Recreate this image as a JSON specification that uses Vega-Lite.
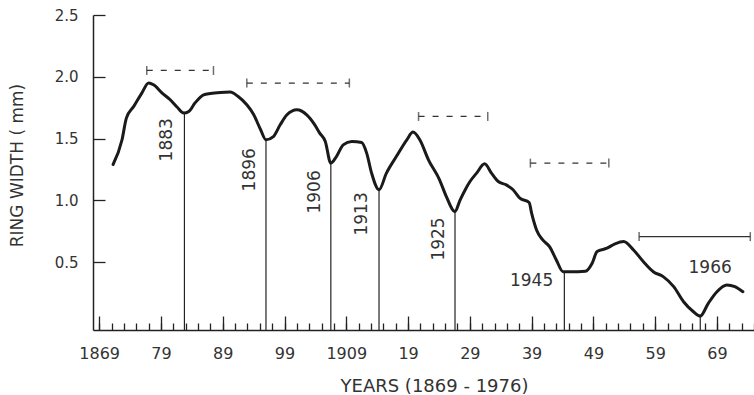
{
  "$schema": "https://vega.github.io/schema/vega-lite/v6.json",
  "width": 661,
  "height": 315,
  "autosize": "none",
  "padding": {"left": 93, "top": 15, "right": 0, "bottom": 65},
  "background": "white",
  "config": {"view": {"stroke": null}, "axis": {"grid": false}},
  "datasets": {
    "ring": [
      {"year": 1871.25, "width": 1.29}, {"year": 1872.7, "width": 1.49}, {"year": 1873.4, "width": 1.665},
      {"year": 1874.6, "width": 1.76}, {"year": 1875.9, "width": 1.868}, {"year": 1877.0, "width": 1.95},
      {"year": 1877.8, "width": 1.935}, {"year": 1879.2, "width": 1.868}, {"year": 1880.5, "width": 1.814},
      {"year": 1881.6, "width": 1.755}, {"year": 1882.7, "width": 1.706}, {"year": 1883.5, "width": 1.719},
      {"year": 1884.5, "width": 1.787}, {"year": 1885.9, "width": 1.854}, {"year": 1887.0, "width": 1.865},
      {"year": 1888.6, "width": 1.873}, {"year": 1890.2, "width": 1.876}, {"year": 1891.5, "width": 1.84},
      {"year": 1892.9, "width": 1.773}, {"year": 1894.0, "width": 1.695}, {"year": 1895.1, "width": 1.575},
      {"year": 1896.0, "width": 1.49}, {"year": 1897.2, "width": 1.516}, {"year": 1898.3, "width": 1.611},
      {"year": 1899.4, "width": 1.692}, {"year": 1901.0, "width": 1.733}, {"year": 1902.6, "width": 1.692},
      {"year": 1903.9, "width": 1.611}, {"year": 1904.7, "width": 1.544}, {"year": 1905.6, "width": 1.476},
      {"year": 1906.5, "width": 1.301}, {"year": 1907.4, "width": 1.354}, {"year": 1908.5, "width": 1.449},
      {"year": 1909.9, "width": 1.476}, {"year": 1911.5, "width": 1.468}, {"year": 1912.3, "width": 1.382},
      {"year": 1913.1, "width": 1.22}, {"year": 1914.3, "width": 1.085}, {"year": 1915.5, "width": 1.22},
      {"year": 1917.1, "width": 1.354}, {"year": 1918.8, "width": 1.49}, {"year": 1919.8, "width": 1.552},
      {"year": 1920.9, "width": 1.49}, {"year": 1922.3, "width": 1.328}, {"year": 1924.1, "width": 1.166},
      {"year": 1925.2, "width": 1.03}, {"year": 1926.6, "width": 0.909}, {"year": 1927.4, "width": 1.0},
      {"year": 1928.3, "width": 1.09}, {"year": 1929.0, "width": 1.15}, {"year": 1930.1, "width": 1.22},
      {"year": 1931.4, "width": 1.295}, {"year": 1932.5, "width": 1.22}, {"year": 1933.6, "width": 1.152},
      {"year": 1934.9, "width": 1.125}, {"year": 1936.0, "width": 1.085}, {"year": 1937.1, "width": 1.017},
      {"year": 1938.6, "width": 0.982}, {"year": 1939.0, "width": 0.896}, {"year": 1939.8, "width": 0.76},
      {"year": 1940.8, "width": 0.679}, {"year": 1941.9, "width": 0.625}, {"year": 1943.0, "width": 0.517},
      {"year": 1944.1, "width": 0.422}, {"year": 1945.1, "width": 0.422}, {"year": 1946.5, "width": 0.422},
      {"year": 1947.7, "width": 0.425}, {"year": 1948.8, "width": 0.49}, {"year": 1949.6, "width": 0.585},
      {"year": 1951.2, "width": 0.612}, {"year": 1952.5, "width": 0.647}, {"year": 1953.9, "width": 0.666},
      {"year": 1955.5, "width": 0.598}, {"year": 1957.1, "width": 0.503}, {"year": 1958.7, "width": 0.422},
      {"year": 1960.3, "width": 0.382}, {"year": 1962.0, "width": 0.301}, {"year": 1963.6, "width": 0.179},
      {"year": 1965.2, "width": 0.098}, {"year": 1966.3, "width": 0.063}, {"year": 1967.6, "width": 0.166},
      {"year": 1969.0, "width": 0.26}, {"year": 1970.6, "width": 0.315}, {"year": 1971.9, "width": 0.301},
      {"year": 1973.2, "width": 0.26}
    ],
    "minima": [
      {"year": 1882.8, "width": 1.706, "label": "1883", "lx": 1880.0, "ly": 1.49, "kind": "vertical"},
      {"year": 1896.0, "width": 1.49, "label": "1896", "lx": 1893.4, "ly": 1.247, "kind": "vertical"},
      {"year": 1906.5, "width": 1.301, "label": "1906", "lx": 1903.9, "ly": 1.068, "kind": "vertical"},
      {"year": 1914.3, "width": 1.085, "label": "1913", "lx": 1911.5, "ly": 0.89, "kind": "vertical"},
      {"year": 1926.6, "width": 0.909, "label": "1925", "lx": 1924.0, "ly": 0.687, "kind": "vertical"},
      {"year": 1944.3, "width": 0.422, "label": "1945", "lx": 1939.0, "ly": 0.347, "kind": "horizontal"},
      {"year": 1966.3, "width": 0.063, "label": "1966", "lx": 1967.9, "ly": 0.452, "kind": "horizontal"}
    ],
    "intervals": [
      {"start": 1876.7, "end": 1887.5, "level": 2.051, "style": "dashed"},
      {"start": 1892.9, "end": 1909.5, "level": 1.949, "style": "dashed"},
      {"start": 1920.7, "end": 1931.9, "level": 1.679, "style": "dashed"},
      {"start": 1938.8, "end": 1951.5, "level": 1.301, "style": "dashed"},
      {"start": 1956.4, "end": 1974.4, "level": 0.706, "style": "solid"}
    ]
  },
  "layer": [
    {
      "data": {"name": "minima"},
      "mark": {"type": "rule", "stroke": "#222", "strokeWidth": 1.2},
      "encoding": {
        "x": {"field": "year", "type": "quantitative", "scale": {"domain": [1868, 1975], "nice": false, "zero": false}, "axis": null},
        "y": {"field": "width", "type": "quantitative", "scale": {"domain": [-0.05, 2.5], "nice": false, "zero": false}, "axis": null},
        "y2": {"datum": -0.05}
      }
    },
    {
      "data": {"name": "ring"},
      "mark": {"type": "line", "interpolate": "monotone", "stroke": "#1a1a1a", "strokeWidth": 3, "strokeCap": "round", "strokeJoin": "round"},
      "encoding": {
        "x": {
          "field": "year", "type": "quantitative",
          "scale": {"domain": [1868, 1975], "nice": false, "zero": false},
          "axis": {
            "orient": "bottom",
            "values": [1869, 1879, 1889, 1899, 1909, 1919, 1929, 1939, 1949, 1959, 1969],
            "labelExpr": "datum.value == 1869 || datum.value == 1909 ? '' + datum.value : substring('' + datum.value, 2, 4)",
            "domain": true, "domainColor": "#222", "domainWidth": 1.5,
            "ticks": true, "tickSize": -14, "tickWidth": 1.3, "tickColor": "#222",
            "labelFont": "DejaVu Sans", "labelFontSize": 16, "labelColor": "#333",
            "labelPadding": 29, "labelFlush": false, "labelOverlap": false, "labelBaseline": "top",
            "title": "YEARS (1869 - 1976)", "titleFont": "DejaVu Sans", "titleFontSize": 18,
            "titleFontWeight": "normal", "titleColor": "#333",
            "titleX": 341, "titleY": 47, "titleAlign": "center", "titleBaseline": "top"
          }
        },
        "y": {
          "field": "width", "type": "quantitative",
          "scale": {"domain": [-0.05, 2.5], "nice": false, "zero": false},
          "axis": {
            "values": [0.5, 1.0, 1.5, 2.0, 2.5],
            "labelExpr": "format(datum.value, '.1f')",
            "domain": true, "domainColor": "#222", "domainWidth": 1.5,
            "ticks": true, "tickSize": -12, "tickWidth": 1.3, "tickColor": "#222",
            "labelFont": "DejaVu Sans", "labelFontSize": 15, "labelColor": "#333",
            "labelPadding": 27, "labelFlush": false, "labelOverlap": false,
            "title": "RING WIDTH ( mm)", "titleFont": "DejaVu Sans", "titleFontSize": 17,
            "titleFontWeight": "normal", "titleColor": "#333",
            "titleX": -76, "titleY": 150, "titleAngle": 270, "titleAlign": "center", "titleBaseline": "middle"
          }
        }
      }
    },
    {
      "data": {"name": "intervals"},
      "mark": {"type": "rule", "stroke": "#333", "strokeWidth": 1.3},
      "encoding": {
        "x": {
          "field": "start", "type": "quantitative",
          "scale": {"domain": [1868, 1975], "nice": false, "zero": false},
          "axis": {
            "orient": "bottom",
            "values": [1869, 1871, 1873, 1875, 1877, 1879, 1881, 1883, 1885, 1887, 1889, 1891, 1893, 1895, 1897, 1899, 1901, 1903, 1905, 1907, 1909, 1911, 1913, 1915, 1917, 1919, 1921, 1923, 1925, 1927, 1929, 1931, 1933, 1935, 1937, 1939, 1941, 1943, 1945, 1947, 1949, 1951, 1953, 1955, 1957, 1959, 1961, 1963, 1965, 1967, 1969, 1971, 1973, 1975],
            "domain": false, "labels": false, "ticks": true, "tickSize": -7, "tickWidth": 1.3, "tickColor": "#222",
            "title": null
          }
        },
        "x2": {"field": "end"},
        "y": {"field": "level", "type": "quantitative", "scale": {"domain": [-0.05, 2.5], "nice": false, "zero": false}, "axis": null},
        "strokeDash": {"field": "style", "type": "nominal", "scale": {"domain": ["dashed", "solid"], "range": [[6, 8], [1, 0]]}, "legend": null}
      }
    },
    {
      "data": {"name": "intervals"},
      "mark": {"type": "tick", "orient": "vertical", "size": 9, "thickness": 1.5, "color": "#333"},
      "encoding": {
        "x": {"field": "start", "type": "quantitative", "scale": {"domain": [1868, 1975], "nice": false, "zero": false}, "axis": null},
        "y": {"field": "level", "type": "quantitative", "scale": {"domain": [-0.05, 2.5], "nice": false, "zero": false}, "axis": null}
      }
    },
    {
      "data": {"name": "intervals"},
      "mark": {"type": "tick", "orient": "vertical", "size": 9, "thickness": 1.5, "color": "#333"},
      "encoding": {
        "x": {"field": "end", "type": "quantitative", "scale": {"domain": [1868, 1975], "nice": false, "zero": false}, "axis": null},
        "y": {"field": "level", "type": "quantitative", "scale": {"domain": [-0.05, 2.5], "nice": false, "zero": false}, "axis": null}
      }
    },
    {
      "data": {"name": "minima"},
      "transform": [{"filter": "datum.kind == 'vertical'"}],
      "mark": {"type": "text", "angle": 270, "align": "center", "baseline": "middle", "font": "DejaVu Sans", "fontSize": 17, "color": "#333"},
      "encoding": {
        "x": {"field": "lx", "type": "quantitative", "scale": {"domain": [1868, 1975], "nice": false, "zero": false}, "axis": null},
        "y": {"field": "ly", "type": "quantitative", "scale": {"domain": [-0.05, 2.5], "nice": false, "zero": false}, "axis": null},
        "text": {"field": "label"}
      }
    },
    {
      "data": {"name": "minima"},
      "transform": [{"filter": "datum.kind == 'horizontal'"}],
      "mark": {"type": "text", "align": "center", "baseline": "middle", "font": "DejaVu Sans", "fontSize": 17, "color": "#333"},
      "encoding": {
        "x": {"field": "lx", "type": "quantitative", "scale": {"domain": [1868, 1975], "nice": false, "zero": false}, "axis": null},
        "y": {"field": "ly", "type": "quantitative", "scale": {"domain": [-0.05, 2.5], "nice": false, "zero": false}, "axis": null},
        "text": {"field": "label"}
      }
    }
  ],
  "resolve": {"axis": {"x": "independent", "y": "independent"}}
}
